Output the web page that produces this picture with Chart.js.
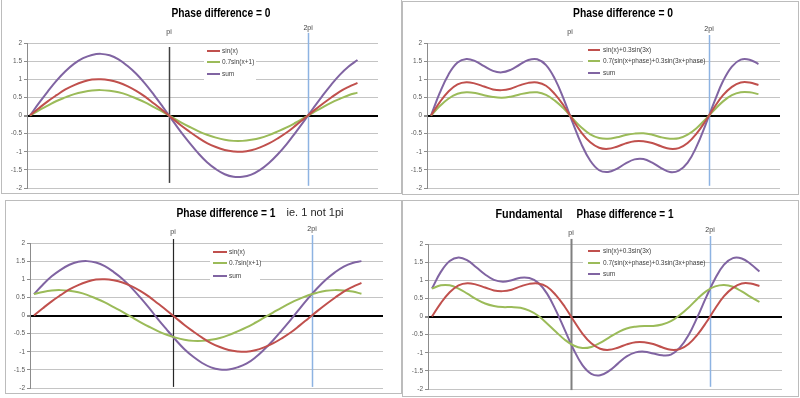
<!DOCTYPE html>
<html>
<head>
<meta charset="utf-8">
<script src="https://cdn.jsdelivr.net/npm/chart.js@4/dist/chart.umd.min.js"></script>
<style>
  body { margin: 0; background: #fff; }
  #wrap { position: relative; width: 800px; height: 398px; overflow: hidden; }
  .frame { position: absolute; border: 1px solid #bcbcbc; box-sizing: border-box; }
  canvas { position: absolute; }
</style>
</head>
<body>
<div id="wrap">
  <div class="frame" style="left:1px;top:-1px;width:401px;height:195px"></div>
  <div class="frame" style="left:402px;top:1px;width:397px;height:194px"></div>
  <div class="frame" style="left:5px;top:200px;width:397px;height:194px"></div>
  <div class="frame" style="left:402px;top:200px;width:397px;height:197px"></div>
  <canvas id="c1" width="400" height="196" style="left:0;top:0"></canvas>
  <canvas id="c2" width="398" height="196" style="left:402px;top:0"></canvas>
  <canvas id="c3" width="400" height="198" style="left:0;top:200px"></canvas>
  <canvas id="c4" width="398" height="198" style="left:402px;top:200px"></canvas>
</div>
<script>
// x en radianes (paso 0.2)
const xs = [0, 0.2, 0.4, 0.6, 0.8, 1, 1.2, 1.4, 1.6, 1.8, 2, 2.2, 2.4, 2.6, 2.8, 3, 3.2, 3.4, 3.6, 3.8,
            4, 4.2, 4.4, 4.6, 4.8, 5, 5.2, 5.4, 5.6, 5.8, 6, 6.2, 6.4, 6.6, 6.8, 7, 7.2, 7.4]

// Panel 1: Phase difference = 0
const p1Red = [0, 0.20, 0.39, 0.56, 0.72, 0.84, 0.93, 0.99, 1.00, 0.97, 0.91, 0.81, 0.68, 0.52, 0.33, 0.14, -0.06, -0.26, -0.44, -0.61,
               -0.76, -0.87, -0.95, -0.99, -1.00, -0.96, -0.88, -0.77, -0.63, -0.47, -0.28, -0.08, 0.12, 0.31, 0.49, 0.66, 0.79, 0.90]
const p1Green = [0, 0.14, 0.27, 0.40, 0.50, 0.59, 0.65, 0.69, 0.70, 0.68, 0.64, 0.57, 0.47, 0.36, 0.23, 0.10, -0.04, -0.18, -0.31, -0.43,
                 -0.53, -0.61, -0.67, -0.70, -0.70, -0.67, -0.62, -0.54, -0.44, -0.33, -0.20, -0.06, 0.08, 0.22, 0.35, 0.46, 0.56, 0.63]
const p1Sum = [0, 0.34, 0.66, 0.96, 1.22, 1.43, 1.58, 1.67, 1.70, 1.66, 1.55, 1.37, 1.15, 0.88, 0.57, 0.24, -0.10, -0.44, -0.75, -1.04,
               -1.29, -1.48, -1.62, -1.69, -1.69, -1.63, -1.50, -1.31, -1.07, -0.79, -0.47, -0.14, 0.20, 0.53, 0.84, 1.12, 1.35, 1.53]

// Panel 2: Phase difference = 0 (con tercer armónico)
const p2Red = [0, 0.37, 0.67, 0.86, 0.92, 0.88, 0.80, 0.72, 0.70, 0.74, 0.83, 0.90, 0.91, 0.82, 0.59, 0.27, -0.11, -0.47, -0.74, -0.89,
               -0.92, -0.86, -0.77, -0.71, -0.71, -0.76, -0.85, -0.92, -0.90, -0.76, -0.50, -0.16, 0.22, 0.56, 0.79, 0.91, 0.91, 0.84]
const p2Green = [0, 0.26, 0.47, 0.60, 0.64, 0.62, 0.56, 0.51, 0.49, 0.52, 0.58, 0.63, 0.64, 0.57, 0.41, 0.19, -0.08, -0.33, -0.52, -0.62,
                 -0.64, -0.60, -0.54, -0.50, -0.49, -0.53, -0.60, -0.64, -0.63, -0.53, -0.35, -0.11, 0.15, 0.39, 0.56, 0.64, 0.64, 0.59]
const p2Sum = [0, 0.63, 1.14, 1.46, 1.56, 1.50, 1.36, 1.23, 1.19, 1.26, 1.40, 1.53, 1.55, 1.39, 1.01, 0.45, -0.19, -0.79, -1.25, -1.51,
               -1.56, -1.47, -1.32, -1.21, -1.20, -1.30, -1.45, -1.56, -1.52, -1.30, -0.86, -0.27, 0.37, 0.95, 1.35, 1.54, 1.54, 1.42]

// Panel 3: Phase difference = 1
const p3Red = [0, 0.20, 0.39, 0.56, 0.72, 0.84, 0.93, 0.99, 1.00, 0.97, 0.91, 0.81, 0.68, 0.52, 0.33, 0.14, -0.06, -0.26, -0.44, -0.61,
               -0.76, -0.87, -0.95, -0.99, -1.00, -0.96, -0.88, -0.77, -0.63, -0.47, -0.28, -0.08, 0.12, 0.31, 0.49, 0.66, 0.79, 0.90]
const p3Green = [0.59, 0.65, 0.69, 0.70, 0.68, 0.64, 0.57, 0.47, 0.36, 0.23, 0.10, -0.04, -0.18, -0.31, -0.43, -0.53, -0.61, -0.67, -0.70, -0.70,
                 -0.67, -0.62, -0.54, -0.44, -0.33, -0.20, -0.06, 0.08, 0.22, 0.35, 0.46, 0.56, 0.63, 0.68, 0.70, 0.69, 0.66, 0.60]
const p3Sum = [0.59, 0.85, 1.08, 1.26, 1.40, 1.48, 1.50, 1.46, 1.36, 1.20, 1.01, 0.77, 0.50, 0.21, -0.10, -0.39, -0.67, -0.93, -1.14, -1.31,
               -1.43, -1.49, -1.49, -1.43, -1.33, -1.16, -0.94, -0.69, -0.41, -0.12, 0.18, 0.48, 0.75, 0.99, 1.19, 1.35, 1.45, 1.50]

// Panel 4: Fundamental, Phase difference = 1
const p4Red = [0, 0.37, 0.67, 0.86, 0.92, 0.88, 0.80, 0.72, 0.70, 0.74, 0.83, 0.90, 0.91, 0.82, 0.59, 0.27, -0.11, -0.47, -0.74, -0.89,
               -0.92, -0.86, -0.77, -0.71, -0.71, -0.76, -0.85, -0.92, -0.90, -0.76, -0.50, -0.16, 0.22, 0.56, 0.79, 0.91, 0.91, 0.84]
const p4Green = [0.77, 0.86, 0.86, 0.77, 0.63, 0.48, 0.36, 0.29, 0.26, 0.26, 0.24, 0.16, 0.02, -0.19, -0.42, -0.64, -0.80, -0.87, -0.84, -0.73,
                 -0.58, -0.44, -0.33, -0.28, -0.26, -0.26, -0.22, -0.13, 0.04, 0.25, 0.49, 0.70, 0.83, 0.87, 0.82, 0.69, 0.54, 0.40]
const p4Sum = [0.77, 1.23, 1.53, 1.63, 1.55, 1.36, 1.16, 1.01, 0.96, 1.00, 1.07, 1.06, 0.93, 0.63, 0.17, -0.37, -0.91, -1.34, -1.58, -1.62,
               -1.50, -1.30, -1.10, -0.99, -0.97, -1.02, -1.07, -1.05, -0.86, -0.51, -0.01, 0.54, 1.05, 1.43, 1.61, 1.60, 1.45, 1.24]

// Etiquetas
const legendSimple = ['sin(x)', '0.7sin(x+1)', 'sum']
const legendHarmonic = ['sin(x)+0.3sin(3x)', '0.7(sin(x+phase)+0.3sin(3x+phase)', 'sum']
const yTickLabels = ['-2', '-1.5', '-1', '-0.5', '0', '0.5', '1', '1.5', '2']
const refX = [Math.PI, 2 * Math.PI]
const refLabels = ['pi', '2pi']

const FONT = '"Liberation Sans", Arial, sans-serif'
const COLORS = ['#C0504D', '#9BBB59', '#8064A2']

const panels = [
    {
        id: 'c1', series: [p1Red, p1Green, p1Sum], names: legendSimple,
        area: { left: 27, top: 43, right: 22, bottom: 8 }, xMin: -0.068, xMax: 7.864,
        titles: [{ text: 'Phase difference = 0', x: 221, y: 14, w: 99, bold: true }],
        refs: [{ from: 1.89, to: -1.86, color: '#404040', width: 1.5 }, { from: 2.28, to: -1.94, color: '#8db3e2', width: 1.5 }],
        refLabelY: [32, 28],
        legend: { x: 204, y: 45, w: 52, h: 36, lineX: 207, lineW: 13, textX: 222, rows: [51, 62, 74] }
    },
    {
        id: 'c2', series: [p2Red, p2Green, p2Sum], names: legendHarmonic,
        area: { left: 25, top: 43, right: 20, bottom: 8 }, xMin: -0.09, xMax: 7.887,
        titles: [{ text: 'Phase difference = 0', x: 221, y: 14, w: 100, bold: true }],
        refs: [null, { from: 2.22, to: -1.94, color: '#8db3e2', width: 1.5 }],
        refLabelY: [32, 29],
        legend: { x: 181, y: 45, w: 114, h: 33, lineX: 186, lineW: 12, textX: 201, rows: [50, 61, 73] }
    },
    {
        id: 'c3', series: [p3Red, p3Green, p3Sum], names: legendSimple,
        area: { left: 30, top: 43, right: 17, bottom: 10 }, xMin: -0.09, xMax: 7.887,
        titles: [{ text: 'Phase difference = 1', x: 226, y: 14, w: 99, bold: true },
                 { text: 'ie. 1 not 1pi', x: 315, y: 13, w: 57, bold: false }],
        refs: [{ from: 2.11, to: -1.97, color: '#262626', width: 1.2 }, { from: 2.22, to: -1.97, color: '#8db3e2', width: 1.5 }],
        refLabelY: [32, 29],
        legend: { x: 210, y: 45, w: 50, h: 36, lineX: 213, lineW: 14, textX: 229, rows: [52, 63, 76] }
    },
    {
        id: 'c4', series: [p4Red, p4Green, p4Sum], names: legendHarmonic,
        area: { left: 26, top: 44, right: 18, bottom: 9 }, xMin: -0.09, xMax: 7.91,
        titles: [{ text: 'Fundamental', x: 127, y: 15, w: 67, bold: true },
                 { text: 'Phase difference = 1', x: 223, y: 15, w: 97, bold: true }],
        refs: [{ from: 2.14, to: -2.03, color: '#7f7f7f', width: 2 }, { from: 2.22, to: -1.94, color: '#8db3e2', width: 1.5 }],
        refLabelY: [33, 30],
        legend: { x: 181, y: 45, w: 114, h: 34, lineX: 186, lineW: 12, textX: 201, rows: [51, 63, 74] }
    }
]

// Plugin: líneas pi / 2pi, leyenda interna y títulos
const makeOverlay = p => ({
    id: 'overlay',
    beforeDatasetsDraw(chart) {
        const ctx = chart.ctx
        const sx = chart.scales.x, sy = chart.scales.y
        ctx.save()
        const b = p.legend
        ctx.fillStyle = '#fff'
        ctx.fillRect(b.x, b.y, b.w, b.h)
        p.refs.forEach((r, i) => {
            if (!r) return
            const px = Math.round(sx.getPixelForValue(refX[i])) + 0.5
            ctx.strokeStyle = r.color
            ctx.lineWidth = r.width
            ctx.beginPath()
            ctx.moveTo(px, sy.getPixelForValue(r.from))
            ctx.lineTo(px, sy.getPixelForValue(r.to))
            ctx.stroke()
        })
        ctx.restore()
    },
    afterDatasetsDraw(chart) {
        const ctx = chart.ctx
        const sx = chart.scales.x
        ctx.save()
        ctx.textBaseline = 'middle'
        // etiquetas pi / 2pi
        ctx.fillStyle = '#404040'
        ctx.font = '7px ' + FONT
        ctx.textAlign = 'center'
        refLabels.forEach((label, i) => {
            ctx.fillText(label, sx.getPixelForValue(refX[i]), p.refLabelY[i])
        })
        // leyenda
        const b = p.legend
        ctx.textAlign = 'left'
        ctx.font = '6.5px ' + FONT
        p.names.forEach((name, i) => {
            const y = b.rows[i]
            ctx.strokeStyle = COLORS[i]
            ctx.lineWidth = 2
            ctx.beginPath()
            ctx.moveTo(b.lineX, y)
            ctx.lineTo(b.lineX + b.lineW, y)
            ctx.stroke()
            ctx.fillStyle = '#404040'
            ctx.fillText(name, b.textX, y)
        })
        // títulos
        ctx.textAlign = 'center'
        p.titles.forEach(t => {
            ctx.font = (t.bold ? 'bold 12px ' : '11.5px ') + FONT
            ctx.fillStyle = t.bold ? '#000' : '#262626'
            ctx.fillText(t.text, t.x, t.y, t.w)
        })
        ctx.restore()
    }
})

const createPanel = p => {
    const ctx = document.getElementById(p.id).getContext('2d')
    new Chart(ctx, {
        type: 'line',
        data: {
            datasets: p.series.map((values, i) => ({
                label: p.names[i],
                data: xs.map((x, k) => ({ x: x, y: values[k] })),
                borderColor: COLORS[i],
                borderWidth: 2,
                pointRadius: 0,
                tension: 0.4,
                fill: false
            }))
        },
        options: {
            responsive: false,
            animation: false,
            devicePixelRatio: 1,
            layout: { padding: { left: 0, top: p.area.top, right: p.area.right, bottom: p.area.bottom } },
            plugins: {
                legend: { display: false },
                tooltip: { enabled: false },
                title: { display: false }
            },
            scales: {
                x: { type: 'linear', min: p.xMin, max: p.xMax, display: false },
                y: {
                    min: -2,
                    max: 2,
                    ticks: {
                        stepSize: 0.5,
                        padding: 2,
                        color: '#595959',
                        font: { size: 6.5, family: FONT },
                        callback: (value, index) => yTickLabels[index]
                    },
                    grid: {
                        color: c => (c.tick && c.tick.value === 0) ? '#000' : '#c4c4c4',
                        lineWidth: c => (c.tick && c.tick.value === 0) ? 2 : 1,
                        tickColor: '#8c8c8c',
                        tickLength: 3
                    },
                    border: { color: '#8c8c8c' },
                    afterFit: s => { s.width = p.area.left }
                }
            }
        },
        plugins: [makeOverlay(p)]
    })
}

panels.forEach(createPanel)
</script>
</body>
</html>
